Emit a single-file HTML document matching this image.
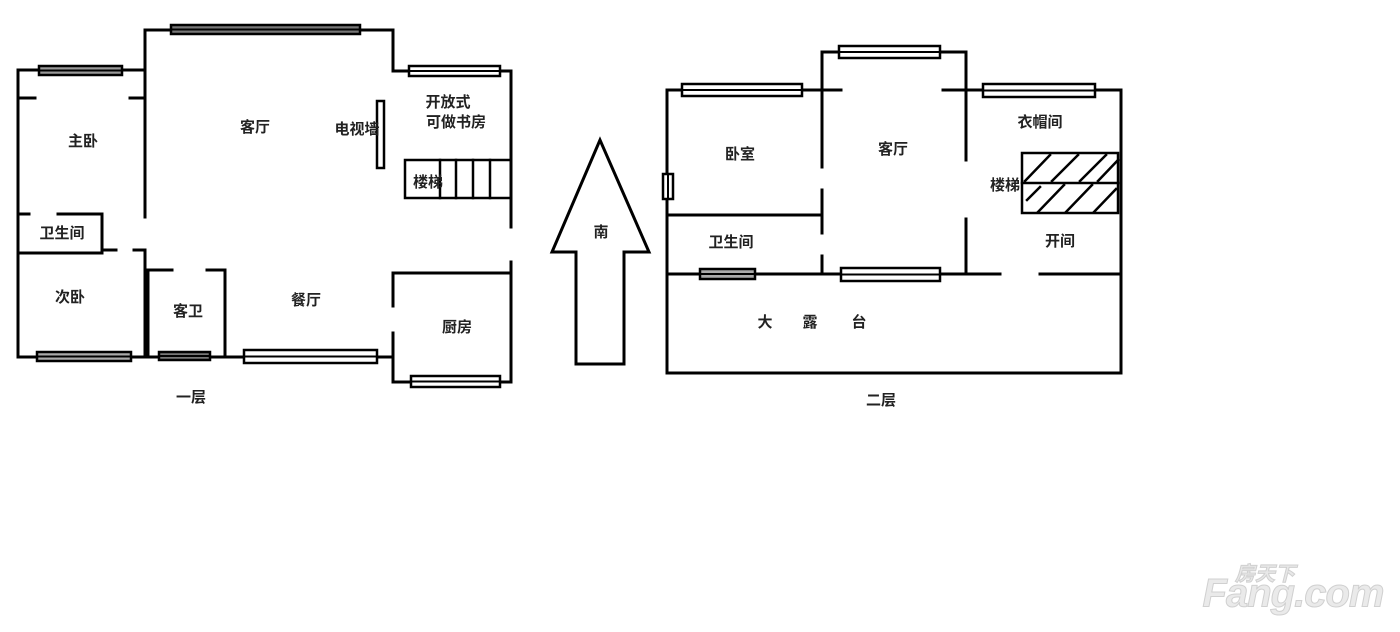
<!DOCTYPE html>
<html><head><meta charset="utf-8"><style>
html,body{margin:0;padding:0;background:#fff;width:1400px;height:632px;overflow:hidden}
svg{display:block}
text{font-family:"Liberation Sans","Noto Sans CJK SC",sans-serif;font-size:15px;font-weight:bold;fill:#222;text-anchor:middle;dominant-baseline:middle}
</style></head><body>
<svg width="1400" height="632" viewBox="0 0 1400 632" xmlns="http://www.w3.org/2000/svg">
<g stroke="#000" stroke-width="3" fill="none" stroke-linecap="square">
<polyline points="145,70 18,70 18,357 145,357"/>
<line x1="18" y1="98" x2="35" y2="98"/><line x1="130" y1="98" x2="145" y2="98"/>
<polyline points="145,217 145,30 393,30 393,71 511,71 511,227"/>
<line x1="511" y1="262" x2="511" y2="382"/>
<line x1="145" y1="250" x2="145" y2="357"/>
<polyline points="18,214 29,214"/><polyline points="58,214 102,214 102,253 18,253"/>
<line x1="105" y1="250" x2="116" y2="250"/><line x1="134" y1="250" x2="145" y2="250"/>
<polyline points="148,357 148,270 172,270"/><polyline points="207,270 225,270 225,357"/>
<line x1="145" y1="357" x2="393" y2="357"/>
<polyline points="393,306 393,273 511,273"/>
<polyline points="393,333 393,382 511,382"/>
<rect x="377" y="101" width="7" height="67" stroke-width="2.5"/>
<rect x="405" y="160" width="106" height="38" stroke-width="2.5"/>
<line x1="440" y1="160" x2="440" y2="198" stroke-width="2.5"/>
<line x1="456" y1="160" x2="456" y2="198" stroke-width="2.5"/>
<line x1="473" y1="160" x2="473" y2="198" stroke-width="2.5"/>
<line x1="490" y1="160" x2="490" y2="198" stroke-width="2.5"/>
<polygon points="600,140 552,252 576,252 576,364 624,364 624,252 649,252" stroke-linejoin="miter"/>
<polyline points="841,90 667,90 667,373 1121,373 1121,90 943,90"/>
<polyline points="822,167 822,52 966,52 966,160"/>
<line x1="822" y1="190" x2="822" y2="233"/>
<line x1="822" y1="256" x2="822" y2="274"/>
<line x1="966" y1="219" x2="966" y2="274"/>
<line x1="667" y1="215" x2="822" y2="215"/>
<line x1="667" y1="274" x2="1000" y2="274"/>
<line x1="1040" y1="274" x2="1121" y2="274"/>
<rect x="1022" y="153" width="96" height="60" stroke-width="2.5"/>
<line x1="1022" y1="183" x2="1118" y2="183" stroke-width="2.5"/>
<g stroke-width="2.5">
<line x1="1025" y1="181" x2="1050" y2="155"/><line x1="1052" y1="181" x2="1078" y2="155"/>
<line x1="1080" y1="181" x2="1106" y2="155"/><line x1="1098" y1="181" x2="1118" y2="160"/>
<line x1="1027" y1="200" x2="1040" y2="187"/><line x1="1038" y1="212" x2="1064" y2="185"/>
<line x1="1066" y1="212" x2="1092" y2="185"/><line x1="1094" y1="212" x2="1116" y2="189"/>
</g>
</g>
<g stroke="#000" stroke-width="2.5" fill="#fff">
<rect x="39" y="66" width="83" height="9" fill="#999"/><rect x="171" y="25" width="189" height="9" fill="#777"/>
<rect x="409" y="66" width="91" height="10"/><rect x="37" y="352" width="94" height="9" fill="#aaa"/>
<rect x="159" y="352" width="51" height="8" fill="#777"/><rect x="244" y="350" width="133" height="13"/>
<rect x="411" y="376" width="89" height="11"/>
<rect x="682" y="84" width="120" height="12"/><rect x="839" y="46" width="101" height="12"/>
<rect x="983" y="84" width="112" height="13"/><rect x="663" y="174" width="10" height="25"/>
<rect x="700" y="269" width="55" height="10" fill="#aaa"/><rect x="841" y="268" width="99" height="13"/>
</g>
<g stroke="#000" stroke-width="2">
<line x1="39" y1="70.5" x2="122" y2="70.5"/><line x1="171" y1="29.5" x2="360" y2="29.5"/>
<line x1="409" y1="71" x2="500" y2="71"/><line x1="37" y1="356.5" x2="131" y2="356.5"/>
<line x1="159" y1="356" x2="210" y2="356"/><line x1="244" y1="356.5" x2="377" y2="356.5"/>
<line x1="411" y1="381.5" x2="500" y2="381.5"/>
<line x1="682" y1="90" x2="802" y2="90"/><line x1="839" y1="52" x2="940" y2="52"/>
<line x1="983" y1="90.5" x2="1095" y2="90.5"/><line x1="668" y1="174" x2="668" y2="199"/>
<line x1="700" y1="274" x2="755" y2="274"/><line x1="841" y1="274.5" x2="940" y2="274.5"/>
</g>
<text x="83" y="142">主卧</text><text x="255" y="128">客厅</text><text x="357" y="130">电视墙</text>
<text x="448" y="103">开放式</text><text x="456" y="123">可做书房</text><text x="428" y="183">楼梯</text>
<text x="62" y="234">卫生间</text><text x="70" y="298">次卧</text><text x="188" y="312">客卫</text>
<text x="306" y="301">餐厅</text><text x="457" y="328">厨房</text><text x="191" y="398">一层</text>
<text x="601" y="233">南</text>
<text x="740" y="155">卧室</text><text x="893" y="150">客厅</text><text x="1040" y="123">衣帽间</text>
<text x="1005" y="186">楼梯</text><text x="731" y="243">卫生间</text><text x="1060" y="242">开间</text>
<text x="765" y="323">大</text><text x="810" y="323">露</text><text x="859" y="323">台</text>
<text x="881" y="401">二层</text>
<g fill="#e6e6e6" stroke="#d0d0d0" stroke-width="1">
<text x="1265" y="575" style="font-size:20px;fill:#e8e8e8;font-style:italic">房天下</text>
<text x="1293" y="596" style="font-size:40px;fill:#eaeaea;font-style:italic;letter-spacing:-1px">Fang.com</text>
</g>
</svg>
</body></html>
